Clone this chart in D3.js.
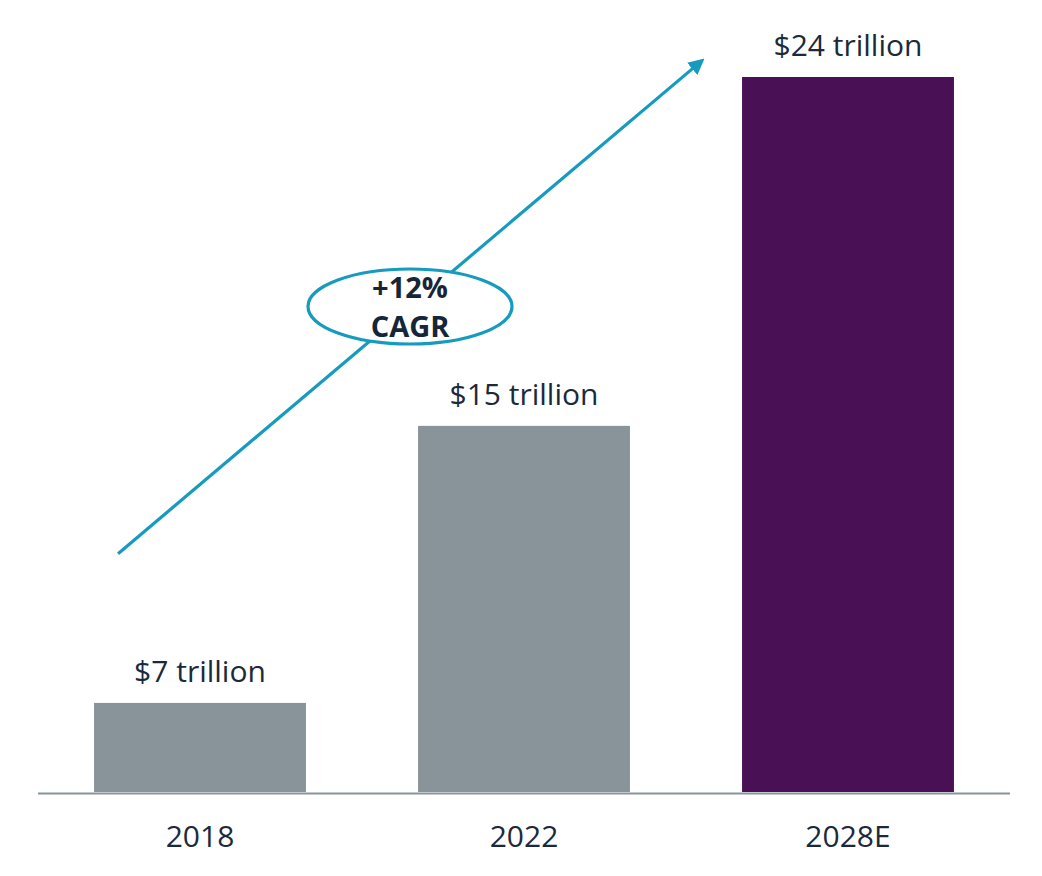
<!DOCTYPE html>
<html>
<head>
<meta charset="utf-8">
<script src="https://cdn.jsdelivr.net/npm/d3@7"></script>
<style>
  html, body { margin: 0; padding: 0; background: #ffffff; }
  svg { display: block; }
</style>
</head>
<body>
<svg id="chart" width="1042" height="876"></svg>
<script>
// ---- data ----
const categories = ["2018", "2022", "2028E"];
const barHeights = [2.99, 12.29, 24];          // bar heights as drawn (not to scale with labels)
const valueLabels = ["$7 trillion", "$15 trillion", "$24 trillion"];
const barColors = ["#89939a", "#89939a", "#4a1055"];
const cagrLines = ["+12%", "CAGR"];

// ---- layout ----
const svg = d3.select("#chart");
const left = 38, right = 1010, baseY = 792, topY = 77;

const x = d3.scaleBand().domain(categories).range([left, right])
  .paddingInner(0.346).paddingOuter(0.173);
const y = d3.scaleLinear().domain([0, 24]).range([baseY, topY]);

const textColor = "#1b2a3a";
const font = "'Open Sans', 'Noto Sans', sans-serif";

// bars
svg.selectAll("rect.bar").data(categories).join("rect")
  .attr("class", "bar")
  .attr("x", d => x(d))
  .attr("width", x.bandwidth())
  .attr("y", (d, i) => y(barHeights[i]))
  .attr("height", (d, i) => y(0) - y(barHeights[i]))
  .attr("fill", (d, i) => barColors[i]);

// baseline
svg.append("line")
  .attr("x1", left).attr("x2", right)
  .attr("y1", baseY + 1.5).attr("y2", baseY + 1.5)
  .attr("stroke", "#8a9399").attr("stroke-width", 2);

// value labels
svg.selectAll("text.val").data(categories).join("text")
  .attr("class", "val")
  .attr("x", d => x(d) + x.bandwidth() / 2)
  .attr("y", (d, i) => y(barHeights[i]) - 21)
  .attr("text-anchor", "middle")
  .attr("font-family", font)
  .attr("font-size", 30)
  .attr("fill", textColor)
  .text((d, i) => valueLabels[i]);

// category axis labels
const axis = d3.axisBottom(x).tickSize(0).tickPadding(0);
const gAxis = svg.append("g").attr("transform", `translate(0, ${baseY + 55})`).call(axis);
gAxis.select(".domain").remove();
gAxis.selectAll("text")
  .attr("font-family", font)
  .attr("font-size", 30)
  .attr("fill", textColor)
  .attr("dy", 0);

// arrow annotation
const arrowColor = "#169bbf";
svg.append("defs").append("marker")
  .attr("id", "arrowhead")
  .attr("viewBox", "0 0 10 10")
  .attr("refX", 8).attr("refY", 5)
  .attr("markerWidth", 5).attr("markerHeight", 5)
  .attr("markerUnits", "strokeWidth")
  .attr("orient", "auto")
  .append("path")
  .attr("d", "M0,0 L10,5 L0,10 z")
  .attr("fill", arrowColor);

const x0 = x("2018") + 24, y0 = y(8.0);
const x1 = x("2028E") - 40, y1 = y(24.55);
svg.append("line")
  .attr("x1", x0).attr("y1", y0)
  .attr("x2", x1).attr("y2", y1)
  .attr("stroke", arrowColor)
  .attr("stroke-width", 3.2)
  .attr("marker-end", "url(#arrowhead)");

// CAGR ellipse
const ex = 410, ey = 306.5;
svg.append("ellipse")
  .attr("cx", ex).attr("cy", ey)
  .attr("rx", 102).attr("ry", 37.5)
  .attr("fill", "#ffffff")
  .attr("stroke", arrowColor)
  .attr("stroke-width", 3.2);

svg.selectAll("text.cagr").data(cagrLines).join("text")
  .attr("class", "cagr")
  .attr("x", ex)
  .attr("y", (d, i) => 298 + i * 39)
  .attr("text-anchor", "middle")
  .attr("font-family", font)
  .attr("font-weight", "bold")
  .attr("font-size", 29)
  .attr("fill", "#152638")
  .text(d => d);
</script>
</body>
</html>
